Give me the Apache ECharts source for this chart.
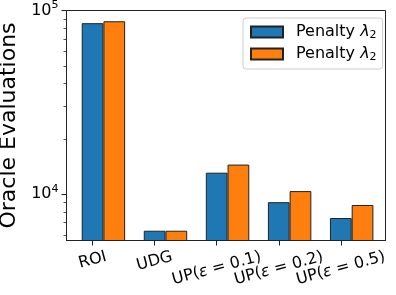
<!DOCTYPE html>
<html><head><meta charset="utf-8">
<script src="https://cdn.jsdelivr.net/npm/echarts@6/dist/echarts.min.js"></script>
<style>html,body{margin:0;padding:0;background:#fff}#c{width:396px;height:295px}</style>
</head><body><div id="c"></div>
<script>
// ---- data ----
const categories = ['ROI', 'UDG', 'UP(ε = 0.1)', 'UP(ε = 0.2)', 'UP(ε = 0.5)'];
const seriesNames = ['Penalty λ2', 'Penalty λ2\u200b'];
const blueValues = [85300, 6330, 13100, 9050, 7420];
const orangeValues = [87400, 6330, 14500, 10400, 8740];
const yMajorTicks = [10000, 100000];
const yMinorTicks = [6000, 7000, 8000, 9000, 20000, 30000, 40000, 50000, 60000, 70000, 80000, 90000];

// ---- layout ----
const FONT = 'DejaVu Sans';
const W = 396, H = 295;
const grid = {left: 66.5, right: 10.5, top: 10.5, bottom: 54.5};
const xMin = -0.42, xMax = 4.72;
const yMin = 5600, yMax = 100000;
const barW = 0.35;
const plotW = W - grid.left - grid.right;
const barPx = barW * plotW / (xMax - xMin);
const catIdx = categories.map((c, i) => i);
const evenIdx = catIdx.filter(i => i % 2 === 0);
const oddIdx = catIdx.filter(i => i % 2 === 1);

// x tick labels: emulate matplotlib rotated (15deg) labels centred under ticks
const ctx = document.createElement('canvas').getContext('2d');
ctx.font = '16px "' + FONT + '"';
const rot = 15 * Math.PI / 180;
const labelMargin = 4;
const axisY = H - grid.bottom;
const xRich = {
  t: {fontSize: 16, fontFamily: FONT, color: '#000'},
  e: {fontSize: 16, fontFamily: FONT, fontStyle: 'italic', color: '#000'}
};
categories.forEach((c, i) => {
  const w = ctx.measureText(c).width;
  const target = 256.45 + Math.sin(rot) / 2 * w;
  const d = target - (axisY + labelMargin);
  const a = Math.max(0, d * Math.cos(rot));
  const b = a * Math.tan(rot);
  xRich['v' + i] = {width: 1, height: 2 * a, fontSize: 1};
  xRich['h' + i] = {width: 2 * b, height: 1, fontSize: 1};
});
function xLabel(v) {
  const i = Math.round(v);
  const s = categories[i];
  if (s === undefined) return '';
  return '{v' + i + '| }\n{t|' + s.replace('ε', '}{e|ε}{t|') + '}{h' + i + '| }';
}
function xAxisDef(idx, showLine) {
  return {
    type: 'value', min: xMin, max: xMax, position: 'bottom', offset: 0,
    splitLine: {show: false},
    axisLine: {show: showLine, onZero: false, lineStyle: {color: '#222', width: 1}},
    axisTick: {show: true, customValues: idx, length: 5, lineStyle: {color: '#222', width: 1}},
    axisLabel: {
      customValues: idx, formatter: xLabel, rotate: 15, align: 'center', verticalAlign: 'middle',
      margin: labelMargin, rich: xRich, color: '#000', hideOverlap: false
    }
  };
}

const chart = echarts.init(document.getElementById('c'), null, {renderer: 'canvas'});
chart.setOption({
  animation: false,
  backgroundColor: '#fff',
  textStyle: {fontFamily: FONT},
  grid: Object.assign({show: true, borderColor: '#222', borderWidth: 1, containLabel: false, outerBoundsMode: 'none'}, grid),
  legend: {
    orient: 'vertical', left: 243, top: 18, icon: 'rect',
    padding: [6, 6, 6, 7], itemWidth: 32, itemHeight: 11, itemGap: 5,
    backgroundColor: 'rgba(255,255,255,0.8)', borderColor: '#cccccc', borderWidth: 1, borderRadius: 3,
    data: seriesNames,
    formatter: () => '{n|Penalty }{l|λ}{s|2}',
    textStyle: {
      fontSize: 16, fontFamily: FONT, color: '#000',
      rich: {
        n: {fontSize: 16, fontFamily: FONT, padding: [0, 0, 0, 8]},
        l: {fontSize: 16, fontFamily: FONT, fontStyle: 'italic'},
        s: {fontSize: 11, fontFamily: FONT, padding: [7, 0, 0, 0]}
      }
    }
  },
  xAxis: [xAxisDef(evenIdx, true), xAxisDef(oddIdx, false)],
  yAxis: [{
    type: 'log', logBase: 10, min: yMin, max: yMax, position: 'left', offset: 0,
    name: 'Oracle Evaluations', nameLocation: 'middle', nameGap: 40,
    nameTextStyle: {fontSize: 22, fontFamily: FONT, color: '#000'},
    splitLine: {show: false},
    axisLine: {show: true, onZero: false, lineStyle: {color: '#222', width: 1}},
    axisTick: {show: true, customValues: yMajorTicks, length: 5, lineStyle: {color: '#222', width: 1}},
    axisLabel: {
      customValues: yMajorTicks, margin: 8, color: '#000',
      formatter: v => '{b|10}{s|' + Math.round(Math.log10(v)) + '}',
      rich: {
        b: {fontSize: 16, fontFamily: FONT, color: '#000'},
        s: {fontSize: 11, fontFamily: FONT, color: '#000', padding: [0, 0, 10, 0]}
      }
    }
  }, {
    type: 'log', logBase: 10, min: yMin, max: yMax, position: 'left', offset: 0,
    splitLine: {show: false},
    axisLine: {show: false, onZero: false},
    axisTick: {show: true, customValues: yMinorTicks, length: 3, lineStyle: {color: '#222', width: 0.8}},
    axisLabel: {show: false}
  }],
  series: [{
    name: seriesNames[0], type: 'bar', xAxisIndex: 0, yAxisIndex: 0,
    barWidth: barPx, barGap: '-100%',
    itemStyle: {color: '#1f77b4', borderColor: '#222', borderWidth: 1},
    data: blueValues.map((v, i) => [i, v])
  }, {
    name: seriesNames[1], type: 'bar', xAxisIndex: 0, yAxisIndex: 0,
    barWidth: barPx, barGap: '-100%',
    itemStyle: {color: '#ff7f0e', borderColor: '#222', borderWidth: 1},
    data: orangeValues.map((v, i) => [i + barW, v])
  }]
});
</script></body></html>
